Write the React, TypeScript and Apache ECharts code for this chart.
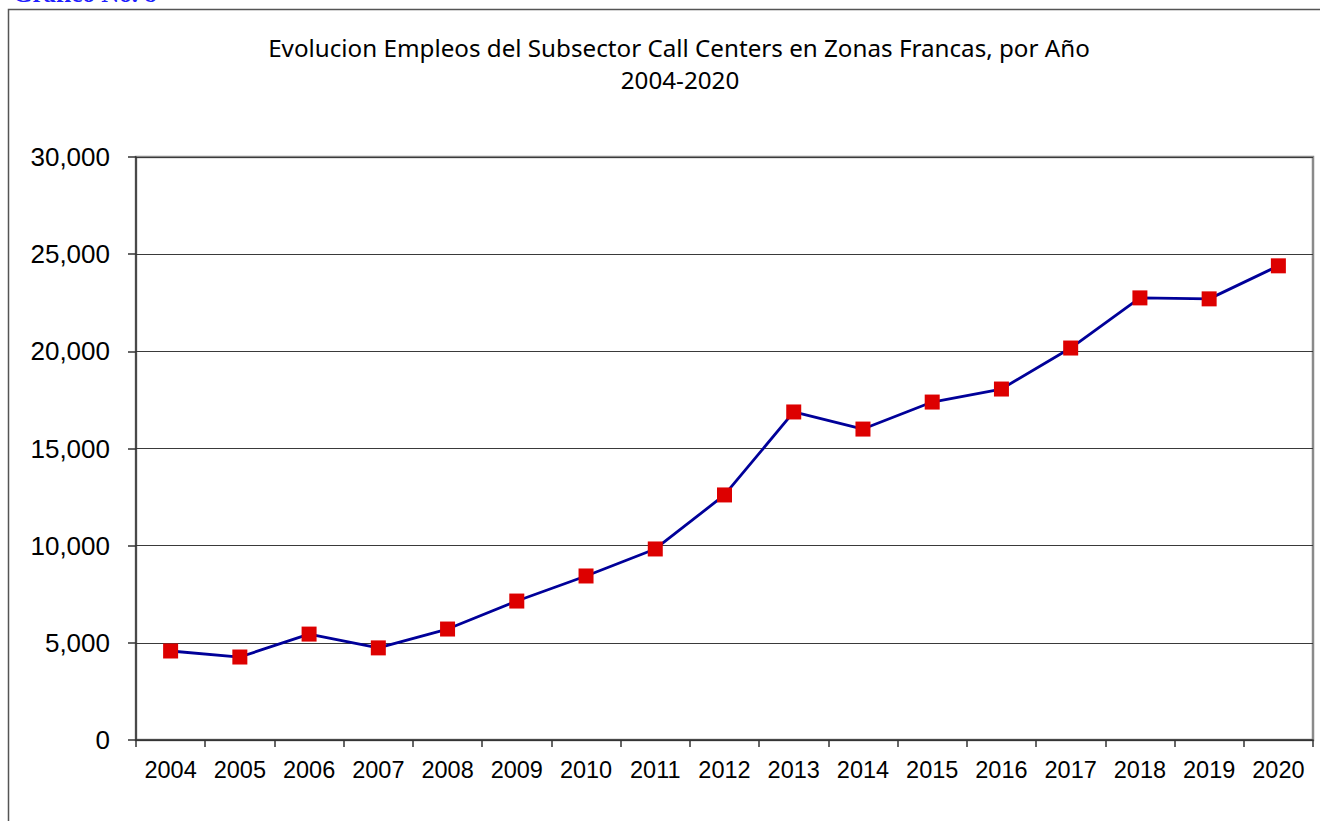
import React, { useEffect, useRef } from "react";
import * as echarts from "echarts";

const years = ["2004","2005","2006","2007","2008","2009","2010","2011","2012","2013","2014","2015","2016","2017","2018","2019","2020"];
const empleos = [4580, 4270, 5450, 4740, 5710, 7150, 8440, 9830, 12610, 16880, 16000, 17390, 18060, 20170, 22750, 22700, 24400];
const titleLines = ["Evolucion Empleos del Subsector Call Centers en Zonas Francas, por Año", "2004-2020"];
const captionText = "Gráfico No. 8";

export default function App() {
  const ref = useRef<HTMLDivElement>(null);
  useEffect(() => {
    if (!ref.current) return;
    const chart = echarts.init(ref.current, null, { renderer: "svg" });
    chart.setOption({
      animation: false,
      backgroundColor: "#ffffff",
      graphic: [
        {
          type: "rect",
          shape: { x: 8.5, y: 9.5, width: 1340, height: 840 },
          style: { fill: "none", stroke: "#555", lineWidth: 1.5 },
          silent: true,
        },
        {
          type: "text",
          left: 13,
          top: -19,
          style: { text: captionText, fill: "#1f1fff", font: "bold 25px 'Liberation Serif'" },
        },
        {
          type: "text",
          x: 679,
          y: 47.5,
          style: {
            text: titleLines[0],
            fill: "#000",
            font: "24.2px 'Noto Sans'",
            align: "center",
            verticalAlign: "middle",
          },
        },
        {
          type: "text",
          x: 680,
          y: 79.5,
          style: {
            text: titleLines[1],
            fill: "#000",
            font: "24.2px 'Noto Sans'",
            align: "center",
            verticalAlign: "middle",
          },
        },
      ],
      grid: {
        left: 136,
        top: 157,
        width: 1177,
        height: 583,
        show: true,
        borderColor: "#8a8a8a",
        borderWidth: 2.5,
        backgroundColor: "transparent",
      },
      xAxis: {
        type: "category",
        data: years,
        boundaryGap: true,
        axisLine: { show: true, lineStyle: { color: "#333", width: 1.5 } },
        axisTick: { show: true, length: 7, interval: 0, lineStyle: { color: "#333", width: 1.5 } },
        axisLabel: { interval: 0, margin: 18, color: "#000", fontSize: 23.5, fontFamily: "'Liberation Sans', Arial" },
        splitLine: { show: false },
      },
      yAxis: {
        type: "value",
        min: 0,
        max: 30000,
        interval: 5000,
        axisLine: { show: true, lineStyle: { color: "#333", width: 1.5 } },
        axisTick: { show: true, length: 8, lineStyle: { color: "#333", width: 1.5 } },
        axisLabel: {
          margin: 26,
          color: "#000",
          fontSize: 26,
          fontFamily: "'Liberation Sans', Arial",
          formatter: (v: number) => v.toLocaleString("en-US"),
        },
        splitLine: { show: true, lineStyle: { color: "#3a3a3a", width: 1 } },
      },
      series: [
        {
          type: "line",
          data: empleos,
          symbol: "rect",
          symbolSize: 15,
          itemStyle: { color: "#dd0000" },
          lineStyle: { color: "#000099", width: 2.8 },
        },
      ],
    });
    return () => chart.dispose();
  }, []);
  return (
    <div
      ref={ref}
      style={{ position: "absolute", left: 0, top: 0, width: 1320, height: 821 }}
    />
  );
}
